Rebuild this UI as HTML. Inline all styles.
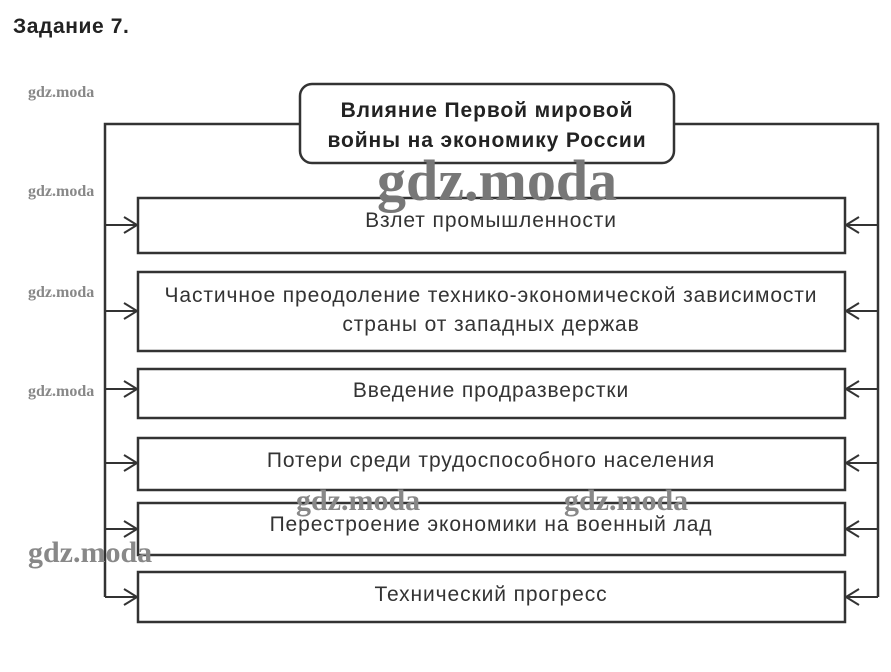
<!DOCTYPE html>
<html><head><meta charset="utf-8"><style>
html,body{margin:0;padding:0;background:#fff;width:891px;height:672px;overflow:hidden}
svg text{font-family:"Liberation Sans",sans-serif}
</style></head><body>
<svg width="891" height="672" xmlns="http://www.w3.org/2000/svg">
<text x="13" y="33" font-size="21" font-weight="bold" fill="#222" letter-spacing="0.6">Задание 7.</text>
<g stroke="#333" stroke-width="2.5" fill="none">
<polyline points="300,124 105,124 105,597"/>
<polyline points="674,124 878,124 878,597"/>
<rect x="300" y="84" width="374" height="79" rx="12" fill="#fff"/>
<rect x="138" y="198" width="707" height="55"/>
<rect x="138" y="272" width="707" height="79"/>
<rect x="138" y="369" width="707" height="49"/>
<rect x="138" y="438" width="707" height="52"/>
<rect x="138" y="503" width="707" height="52"/>
<rect x="138" y="572" width="707" height="50"/>
</g>
<g stroke="#333" stroke-width="2" fill="none">
<path d="M105 225H137M124 217L137 225L124 233"/>
<path d="M105 311H137M124 303L137 311L124 319"/>
<path d="M105 389H137M124 381L137 389L124 397"/>
<path d="M105 463H137M124 455L137 463L124 471"/>
<path d="M105 529H137M124 521L137 529L124 537"/>
<path d="M105 597H137M124 589L137 597L124 605"/>
<path d="M878 225H846M859 217L846 225L859 233"/>
<path d="M878 311H846M859 303L846 311L859 319"/>
<path d="M878 389H846M859 381L846 389L859 397"/>
<path d="M878 463H846M859 455L846 463L859 471"/>
<path d="M878 529H846M859 521L846 529L859 537"/>
<path d="M878 597H846M859 589L846 597L859 605"/>
</g>
<g font-size="21" font-weight="bold" fill="#222" text-anchor="middle" letter-spacing="0.9">
<text x="487" y="117">Влияние Первой мировой</text>
<text x="487" y="147">войны на экономику России</text>
</g>
<g font-size="21" fill="#333" text-anchor="middle" letter-spacing="0.9">
<text x="491" y="227">Взлет промышленности</text>
<text x="491" y="302">Частичное преодоление технико-экономической зависимости</text>
<text x="491" y="331">страны от западных держав</text>
<text x="491" y="397">Введение продразверстки</text>
<text x="491" y="467">Потери среди трудоспособного населения</text>
<text x="491" y="531">Перестроение экономики на военный лад</text>
<text x="491" y="601">Технический прогресс</text>
</g>
<g fill="#888" font-weight="bold">
<text x="28" y="97" font-size="16" style="font-family:'Liberation Serif',serif">gdz.moda</text>
<text x="28" y="196" font-size="16" style="font-family:'Liberation Serif',serif">gdz.moda</text>
<text x="28" y="297" font-size="16" style="font-family:'Liberation Serif',serif">gdz.moda</text>
<text x="28" y="396" font-size="16" style="font-family:'Liberation Serif',serif">gdz.moda</text>
<text x="377" y="200" font-size="58" fill="#777" style="font-family:'Liberation Serif',serif">gdz.moda</text>
<text x="296" y="510" font-size="30" style="font-family:'Liberation Serif',serif">gdz.moda</text>
<text x="564" y="510" font-size="30" style="font-family:'Liberation Serif',serif">gdz.moda</text>
<text x="28" y="562" font-size="30" style="font-family:'Liberation Serif',serif">gdz.moda</text>
</g>
</svg>
</body></html>
